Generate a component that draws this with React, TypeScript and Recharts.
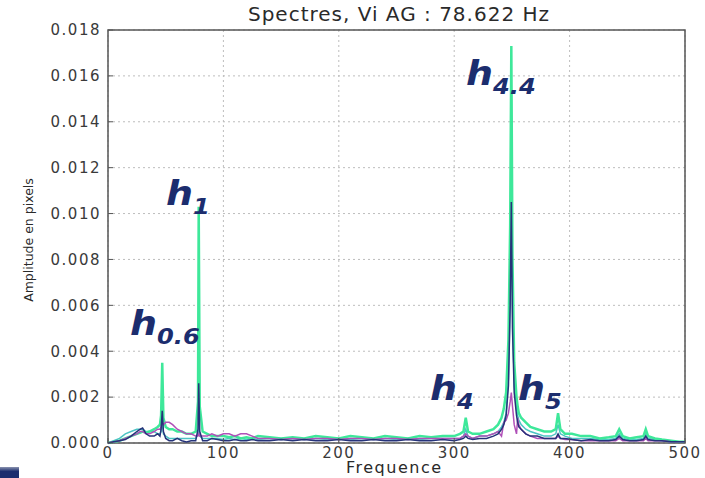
import React from 'react';
import { LineChart, Line, XAxis, YAxis, CartesianGrid, ReferenceArea } from 'recharts';

// frequency bins (Hz), denser around the harmonics
const freq = [
  0, 5, 10, 15, 20, 25, 28, 30, 33, 36,
  40, 43, 45, 46, 47, 48, 50, 53, 56, 60,
  64, 68, 72, 76, 78, 78.6, 79.5, 82, 86, 90,
  95, 100, 105, 110, 115, 120, 125, 130, 140, 150,
  160, 170, 180, 190, 200, 210, 220, 230, 240, 250,
  260, 270, 280, 290, 300, 305, 308, 310, 312, 316,
  322, 328, 334, 338, 341, 343, 345, 347, 348.5, 349.5,
  350.5, 352, 354, 355, 356, 358, 362, 366, 372, 378,
  384, 388, 390, 392, 396, 402, 410, 418, 426, 434,
  440, 443, 446, 452, 458, 464, 466, 468, 474, 480,
  488, 495, 500,
];

const greenSpec = [
  0, 0.00005, 0.0001, 0.0002, 0.0003, 0.0004, 0.00045, 0.0005, 0.00045, 0.0005,
  0.0006, 0.0007, 0.0008, 0.0012, 0.0035, 0.0011, 0.0007, 0.0006, 0.0006, 0.0005,
  0.0005, 0.0004, 0.0004, 0.0005, 0.0018, 0.0103, 0.0016, 0.0005, 0.0004, 0.0003,
  0.0003, 0.0003, 0.00025, 0.0003, 0.0002, 0.00025, 0.0002, 0.0003, 0.00025, 0.0002,
  0.00025, 0.0002, 0.0003, 0.00025, 0.0002, 0.0003, 0.00025, 0.0002, 0.0003, 0.00025,
  0.0002, 0.0003, 0.00025, 0.0003, 0.0003, 0.0004, 0.0005, 0.0011, 0.0005, 0.0004,
  0.0004, 0.0005, 0.0006, 0.0008, 0.0011, 0.0015, 0.0022, 0.0045, 0.0095, 0.0173,
  0.008, 0.0035, 0.002, 0.0016, 0.0013, 0.0011, 0.0009, 0.0007, 0.0006, 0.0005,
  0.0005, 0.0006, 0.0013, 0.0006, 0.0004, 0.0004, 0.0003, 0.0003, 0.0002, 0.00025,
  0.0003, 0.0006, 0.0003, 0.0002, 0.00025, 0.0003, 0.0006, 0.0003, 0.0002, 0.00015,
  0.0001, 0.00005, 0.00005,
];

const navySpec = [
  0, 0.00005, 0.0001, 0.00015, 0.0003, 0.0005, 0.0006, 0.00065, 0.0004, 0.0003,
  0.0003, 0.0004, 0.0003, 0.0006, 0.0014, 0.0005, 0.0002, 0.0001, 0.0001, 0.0002,
  0.0001, 0.00005, 0.0001, 0.0001, 0.0006, 0.0026, 0.0005, 0.0001, 0.0001, 0.0002,
  0.00015, 0.0001, 0.0001, 0.00015, 0.0001, 0.0001, 0.00015, 0.0001, 0.0001, 0.00015,
  0.0001, 0.00015, 0.0001, 0.0001, 0.00015, 0.0001, 0.0001, 0.00015, 0.0001, 0.0001,
  0.00015, 0.0001, 0.0001, 0.00015, 0.0001, 0.00015, 0.0002, 0.0003, 0.0002, 0.00015,
  0.0002, 0.0002, 0.0003, 0.0004, 0.0006, 0.0008, 0.0012, 0.0025, 0.006, 0.0105,
  0.005, 0.0022, 0.0012, 0.0009, 0.0007, 0.0006, 0.0004, 0.0003, 0.0003, 0.0002,
  0.0002, 0.0002, 0.0004, 0.0002, 0.0002, 0.00015, 0.0001, 0.00015, 0.0001, 0.0001,
  0.00015, 0.0003, 0.00015, 0.0001, 0.0001, 0.00015, 0.0003, 0.00015, 0.0001, 0.0001,
  0.00005, 0.00005, 0.00005,
];

const purpleSpec = [
  0, 0.00005, 0.0001, 0.0002, 0.0003, 0.0004, 0.0005, 0.0005, 0.0004, 0.0004,
  0.0005, 0.0006, 0.0006, 0.0007, 0.0009, 0.0008, 0.0009, 0.0009, 0.0008, 0.0006,
  0.0005, 0.0004, 0.0004, 0.0003, 0.0003, 0.0004, 0.0003, 0.0003, 0.0003, 0.0004,
  0.0003, 0.0004, 0.0004, 0.0003, 0.0004, 0.0004, 0.0003, 0.0002, 0.0002, 0.00015,
  0.0002, 0.00015, 0.0002, 0.0002, 0.00015, 0.0002, 0.0002, 0.00015, 0.0002, 0.0002,
  0.00015, 0.0002, 0.0002, 0.0002, 0.0002, 0.0002, 0.0003, 0.0004, 0.0003, 0.0002,
  0.0003, 0.0003, 0.0004, 0.0005, 0.0003, 0.0009, 0.001, 0.0013, 0.0018, 0.0022,
  0.0016, 0.0008, 0.0004, 0.0011, 0.0008, 0.0006, 0.0004, 0.0003, 0.0002, 0.0002,
  0.0002, 0.0002, 0.0003, 0.0002, 0.00015, 0.00015, 0.0001, 0.0001, 0.0001, 0.0001,
  0.0001, 0.0002, 0.0001, 0.0001, 0.0001, 0.0001, 0.0002, 0.0001, 0.0001, 0.0001,
  0.00005, 0.00005, 0.00005,
];

const cyanSpec = [
  0, 0.0001, 0.0002, 0.0004, 0.0005, 0.0006, 0.0006, 0.0006, 0.0005, 0.0005,
  0.0005, 0.0004, 0.0004, 0.0005, 0.001, 0.0004, 0.0003, 0.0002, 0.0002, 0.0002,
  0.0002, 0.0002, 0.0002, 0.0002, 0.0004, 0.0008, 0.0003, 0.0002, 0.0002, 0.0002,
  0.0002, 0.00015, 0.0002, 0.00015, 0.0002, 0.00015, 0.0002, 0.00015, 0.0002, 0.00015,
  0.0002, 0.00015, 0.0002, 0.00015, 0.0002, 0.00015, 0.0002, 0.00015, 0.0002, 0.00015,
  0.0002, 0.00015, 0.0002, 0.0002, 0.0002, 0.0002, 0.0003, 0.0006, 0.0003, 0.0002,
  0.0003, 0.0003, 0.0004, 0.0005, 0.0007, 0.0009, 0.0013, 0.0028, 0.006, 0.012,
  0.006, 0.0025, 0.0015, 0.0012, 0.001, 0.0008, 0.0006, 0.0005, 0.0004, 0.0003,
  0.0003, 0.0004, 0.0008, 0.0004, 0.0003, 0.0002, 0.0002, 0.0002, 0.00015, 0.00015,
  0.0002, 0.0004, 0.0002, 0.00015, 0.00015, 0.0002, 0.0004, 0.0002, 0.00015, 0.0001,
  0.00005, 0.00005, 0.00005,
];

const xTicks = [0, 100, 200, 300, 400, 500];
const yTicks = [0, 0.002, 0.004, 0.006, 0.008, 0.01, 0.012, 0.014, 0.016, 0.018];

const harmonics = [
  { sub: '0.6', left: 130, top: 307 },
  { sub: '1', left: 166, top: 177 },
  { sub: '4.4', left: 466, top: 57 },
  { sub: '4', left: 430, top: 372 },
  { sub: '5', left: 518, top: 372 },
];

const data = freq.map((f, i) => ({
  f,
  cyan: cyanSpec[i],
  green: greenSpec[i],
  purple: purpleSpec[i],
  navy: navySpec[i],
}));

const tickStyle = { fontSize: 15, fill: '#3a3a3a', fontFamily: 'DejaVu Sans', letterSpacing: 1.5 };

const HarmLabel = ({ sub, left, top }: { sub: string; left: number; top: number }) => (
  <div
    style={{
      position: 'absolute', left, top, color: '#1c2d6e', fontFamily: 'DejaVu Sans',
      fontWeight: 'bold', fontStyle: 'italic', fontSize: 33, lineHeight: 1,
      transform: 'scaleX(1.15)', transformOrigin: 'left top', whiteSpace: 'nowrap',
    }}
  >
    h<span style={{ fontSize: 21, position: 'relative', top: 9 }}>{sub}</span>
  </div>
);

export default function App() {
  return (
    <div style={{ position: 'absolute', left: 0, top: 0, width: 705, height: 478, background: '#fff', overflow: 'hidden' }}>
      <LineChart width={705} height={478} data={data} margin={{ top: 30, right: 20, left: 0, bottom: 0 }}>
        <CartesianGrid stroke="#bdbdbd" strokeDasharray="2 3" />
        <XAxis
          dataKey="f" type="number" domain={[0, 500]} ticks={xTicks} height={35}
          axisLine={false} tickSize={-5} tickMargin={9} tickLine={{ stroke: '#555' }} tick={tickStyle}
        />
        <YAxis
          type="number" domain={[0, 0.018]} ticks={yTicks} width={108}
          axisLine={false} tickSize={-5} tickMargin={12} tickLine={{ stroke: '#555' }} tick={tickStyle}
          tickFormatter={(v: number) => v.toFixed(3)}
        />
        <Line type="linear" dataKey="cyan" stroke="#4cc4c4" strokeWidth={1.5} dot={false} isAnimationActive={false} />
        <Line type="linear" dataKey="green" stroke="#3ee89a" strokeWidth={2.5} dot={false} isAnimationActive={false} />
        <Line type="linear" dataKey="purple" stroke="#b050b8" strokeWidth={1.5} dot={false} isAnimationActive={false} />
        <Line type="linear" dataKey="navy" stroke="#26337a" strokeWidth={1.5} dot={false} isAnimationActive={false} />
        <ReferenceArea x1={0} x2={500} y1={0} y2={0.018} fill="none" stroke="#555" strokeWidth={1.5} ifOverflow="visible" />
      </LineChart>

      <div style={{ position: 'absolute', left: 99, width: 600, top: 2, textAlign: 'center', fontFamily: 'DejaVu Sans', fontSize: 20, letterSpacing: 1, color: '#2a2a2a' }}>
        Spectres, Vi AG : 78.622 Hz
      </div>
      <div style={{ position: 'absolute', left: 346, top: 458, fontFamily: 'DejaVu Sans', fontSize: 16, letterSpacing: 1.5, color: '#2a2a2a' }}>
        Frequence
      </div>
      <div
        style={{
          position: 'absolute', left: 28, top: 240, fontFamily: 'DejaVu Sans', fontSize: 12.5, color: '#2a2a2a',
          transform: 'translate(-50%, -50%) rotate(-90deg)', whiteSpace: 'nowrap',
        }}
      >
        Amplitude en pixels
      </div>
      {harmonics.map(h => (
        <HarmLabel key={h.sub} {...h} />
      ))}
      <div style={{ position: 'absolute', left: 0, top: 467, width: 19, height: 11, background: 'linear-gradient(#8a93b0, #1c2d6e 40%)' }} />
    </div>
  );
}
